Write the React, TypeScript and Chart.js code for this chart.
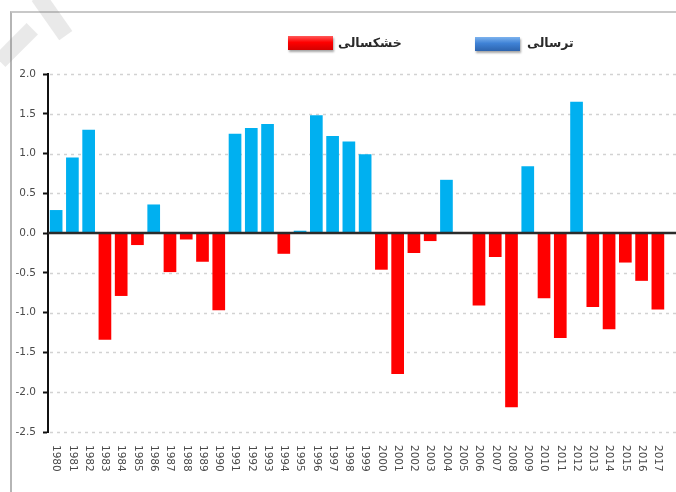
import React, { useEffect, useRef } from "react";
import { Chart, registerables } from "chart.js";

Chart.register(...registerables);

const years = [
  "1980", "1981", "1982", "1983", "1984", "1985", "1986", "1987", "1988", "1989",
  "1990", "1991", "1992", "1993", "1994", "1995", "1996", "1997", "1998", "1999",
  "2000", "2001", "2002", "2003", "2004", "2005", "2006", "2007", "2008", "2009",
  "2010", "2011", "2012", "2013", "2014", "2015", "2016", "2017",
];

const indexValues = [
  0.29, 0.95, 1.3, -1.34, -0.79, -0.15, 0.36, -0.49, -0.08, -0.36,
  -0.97, 1.25, 1.32, 1.37, -0.26, 0.03, 1.48, 1.22, 1.15, 0.99,
  -0.46, -1.77, -0.25, -0.1, 0.67, 0, -0.91, -0.3, -2.19, 0.84,
  -0.82, -1.32, 1.65, -0.93, -1.21, -0.37, -0.6, -0.96,
];

const wetLabel = "ترسالی";
const droughtLabel = "خشکسالی";

const yTickMin = -2.5;
const yTickMax = 2.0;
const yTickStep = 0.5;

const wetColor = "#00B0F0";
const droughtColor = "#FF0000";

const decorPlugin = {
  id: "decor",
  beforeDatasetsDraw(chart: any) {
    const { ctx, chartArea, scales } = chart;
    const y = scales.y;
    ctx.save();
    ctx.strokeStyle = "#d2d2d2";
    ctx.lineWidth = 1.5;
    ctx.setLineDash([3, 4]);
    y.ticks.forEach((t: any) => {
      if (t.value === 0) return;
      const py = Math.round(y.getPixelForValue(t.value)) + 0.5;
      ctx.beginPath();
      ctx.moveTo(chartArea.left + 2, py);
      ctx.lineTo(chart.width, py);
      ctx.stroke();
    });
    ctx.restore();
  },
  afterDatasetsDraw(chart: any) {
    const { ctx, chartArea, scales } = chart;
    const y = scales.y;
    const py = y.getPixelForValue(0);
    ctx.save();
    ctx.strokeStyle = "#2b2b2b";
    ctx.lineWidth = 2.5;
    ctx.beginPath();
    ctx.moveTo(chartArea.left, py);
    ctx.lineTo(chart.width, py);
    ctx.stroke();
    ctx.restore();
  },
  afterDraw(chart: any) {
    const { ctx, chartArea, scales } = chart;
    const x = scales.x;
    ctx.save();
    ctx.fillStyle = "#4a4a4a";
    ctx.font = "10.5px 'DejaVu Sans'";
    ctx.textAlign = "left";
    ctx.textBaseline = "middle";
    x.ticks.forEach((t: any, i: number) => {
      const px = x.getPixelForTick(i);
      const label = x.getLabelForValue(t.value);
      ctx.save();
      ctx.translate(px, chartArea.bottom + 13);
      ctx.rotate(Math.PI / 2);
      ctx.fillText(label, 0, 0);
      ctx.restore();
    });
    ctx.restore();
  },
};

function BarChart() {
  const canvasRef = useRef<HTMLCanvasElement | null>(null);

  useEffect(() => {
    if (!canvasRef.current) return;
    const wetData = indexValues.map((v) => (v > 0 ? v : null));
    const droughtData = indexValues.map((v) => (v < 0 ? v : null));
    const chart = new Chart(canvasRef.current, {
      type: "bar",
      data: {
        labels: years,
        datasets: [
          {
            label: droughtLabel,
            data: droughtData as any,
            backgroundColor: droughtColor,
            borderWidth: 0,
          },
          {
            label: wetLabel,
            data: wetData as any,
            backgroundColor: wetColor,
            borderWidth: 0,
          },
        ],
      },
      options: {
        animation: false,
        responsive: true,
        maintainAspectRatio: false,
        layout: { padding: { top: 74, right: 10, left: 0, bottom: 0 } },
        datasets: {
          bar: { grouped: false, barPercentage: 0.78, categoryPercentage: 1 },
        } as any,
        plugins: {
          legend: { display: false },
          tooltip: { enabled: false },
        },
        scales: {
          x: {
            grid: { display: false, drawTicks: false },
            border: { display: false },
            ticks: { display: false },
            afterFit: (s: any) => {
              s.height = 60;
            },
          },
          y: {
            min: yTickMin,
            max: yTickMax,
            ticks: {
              stepSize: yTickStep,
              callback: (v: any) => Number(v).toFixed(1),
              color: "#4a4a4a",
              font: { family: "'DejaVu Sans'", size: 10.5 },
              padding: 7,
            },
            grid: {
              drawOnChartArea: false,
              drawTicks: true,
              tickLength: 5,
              tickWidth: 2,
              tickColor: "#111",
            },
            border: { display: true, color: "#111", width: 2 },
            afterFit: (s: any) => {
              s.width = 48;
            },
          },
        },
      },
      plugins: [decorPlugin],
    });
    return () => chart.destroy();
  }, []);

  return <canvas ref={canvasRef} />;
}

export default function App() {
  const textStyle: React.CSSProperties = {
    position: "absolute",
    top: 34,
    fontFamily: "'DejaVu Sans', sans-serif",
    fontWeight: "bold",
    fontSize: 12.5,
    lineHeight: "18px",
    color: "#2a2a2a",
    direction: "rtl",
    whiteSpace: "nowrap",
  };
  return (
    <div
      style={{
        position: "fixed",
        left: 0,
        top: 0,
        width: 676,
        height: 492,
        background: "#fff",
        overflow: "hidden",
      }}
    >
      <div
        style={{
          position: "absolute",
          left: 10,
          top: 11,
          right: -10,
          bottom: -10,
          borderLeft: "2px solid #b5b5b5",
          borderTop: "2px solid #c8c8c8",
        }}
      />
      <div style={{ position: "absolute", left: 0, top: 0, width: 676, height: 492 }}>
        <BarChart />
      </div>
      <div
        style={{
          position: "absolute",
          left: 288,
          top: 36,
          width: 45,
          height: 14,
          background: "linear-gradient(#ff5a5a, #ff0000 45%, #d40000)",
          boxShadow: "1px 2px 2px rgba(0,0,0,0.35)",
        }}
      />
      <span style={{ ...textStyle, left: 338 }}>{droughtLabel}</span>
      <div
        style={{
          position: "absolute",
          left: 475,
          top: 37,
          width: 45,
          height: 14,
          background: "linear-gradient(#7db3ee, #3f82d6 45%, #2d64ae)",
          boxShadow: "1px 2px 2px rgba(0,0,0,0.35)",
        }}
      />
      <span style={{ ...textStyle, left: 527 }}>{wetLabel}</span>
      <div
        style={{
          position: "absolute",
          left: 44,
          top: -8,
          width: 16,
          height: 48,
          background: "rgba(120,120,120,0.16)",
          transform: "rotate(-35deg)",
          pointerEvents: "none",
        }}
      />
      <div
        style={{
          position: "absolute",
          left: 8,
          top: 22,
          width: 16,
          height: 46,
          background: "rgba(120,120,120,0.16)",
          transform: "rotate(45deg)",
          pointerEvents: "none",
        }}
      />
    </div>
  );
}
